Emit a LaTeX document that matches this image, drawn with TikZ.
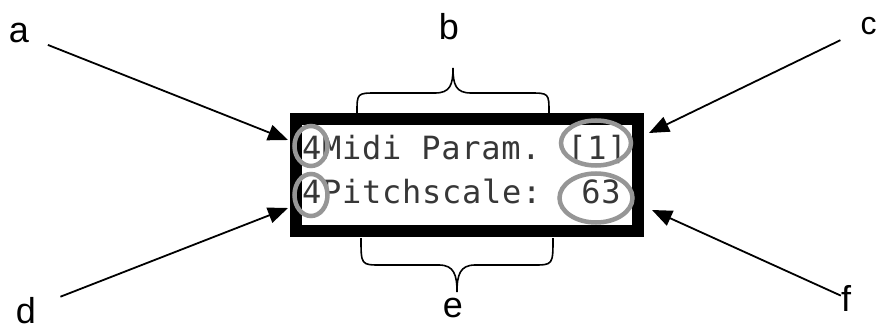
\documentclass[tikz,border=0pt]{standalone}
\usepackage{fontspec}
\setmainfont{Liberation Sans}
\newfontfamily\lcdfont[LetterSpace=2.3]{DejaVu Sans Mono}
\usetikzlibrary{arrows.meta,shapes.geometric}
\definecolor{ringgray}{RGB}{150,150,150}
\definecolor{lcdink}{RGB}{55,55,55}
\tikzset{
  lbl/.style={inner sep=1pt, anchor=base, font=\fontsize{36}{40}\selectfont},
  arr/.style={line width=1.8pt, -{Triangle[length=20pt,width=16pt]}},
  ring/.style={draw=ringgray, line width=4.5pt, ellipse, inner sep=0pt},
  lcd/.style={inner sep=0pt, anchor=base west, text=lcdink, font=\lcdfont\fontsize{32}{36}\selectfont},
  frame/.style={draw=black, fill=white, line width=12pt, inner sep=0pt, minimum width=342pt, minimum height=112pt},
  brace/.style={line width=1.6pt}
}
\begin{document}
\begin{tikzpicture}[x=1pt,y=-1pt]
\useasboundingbox (0,0) rectangle (881,329);
% display frame
\node[frame] (disp) at (467,175) {};
% display text
\node[lcd] (row1) at (302,159) {4Midi Param. [1]};
\node[lcd] (row2) at (302,203) {4Pitchscale:\ \ 63};
% gray rings
\node[ring, minimum width=33pt, minimum height=40pt] (r1) at (311,146) {};
\node[ring, minimum width=33pt, minimum height=42pt] (r2) at (311,195) {};
\node[ring, minimum width=70pt, minimum height=45pt] (r3) at (596,143) {};
\node[ring, minimum width=73pt, minimum height=49pt] (r4) at (596,198) {};
% labels
\node[lbl] (a) at (19,43) {a};
\node[lbl] (b) at (449,40) {b};
\node[lbl, font=\fontsize{32}{34}\selectfont] (c) at (868.5,35) {c};
\node[lbl, inner sep=0pt] (d) at (26,323) {d};
\node[lbl] (e) at (453,317) {e};
\node[lbl, inner sep=0pt] (f) at (846,311) {f};
% arrow tips
\coordinate (ta) at (288,140);
\coordinate (tc) at (649,133);
\coordinate (td) at (288,208);
\coordinate (tf) at (652,210);
\draw[arr, shorten <=19pt] (a) -- (ta);
\draw[arr, shorten <=21pt] (c) -- (tc);
\draw[arr, shorten <=26pt] (d) -- (td);
\draw[arr] (f) -- (tf);
% braces
\draw[brace] (357,113) .. controls (357,93) .. (377,93) -- (435,93)
  .. controls (450,93) and (453,85) .. (453,68)
  .. controls (453,85) and (456,93) .. (471,93) -- (529,93)
  .. controls (549,93) .. (549,113);
\draw[brace] (361,238) .. controls (361,265) .. (381,265) -- (439,265)
  .. controls (454,265) and (457,275) .. (457,292)
  .. controls (457,275) and (460,265) .. (475,265) -- (533,265)
  .. controls (553,265) .. (553,238);
\end{tikzpicture}
\end{document}
